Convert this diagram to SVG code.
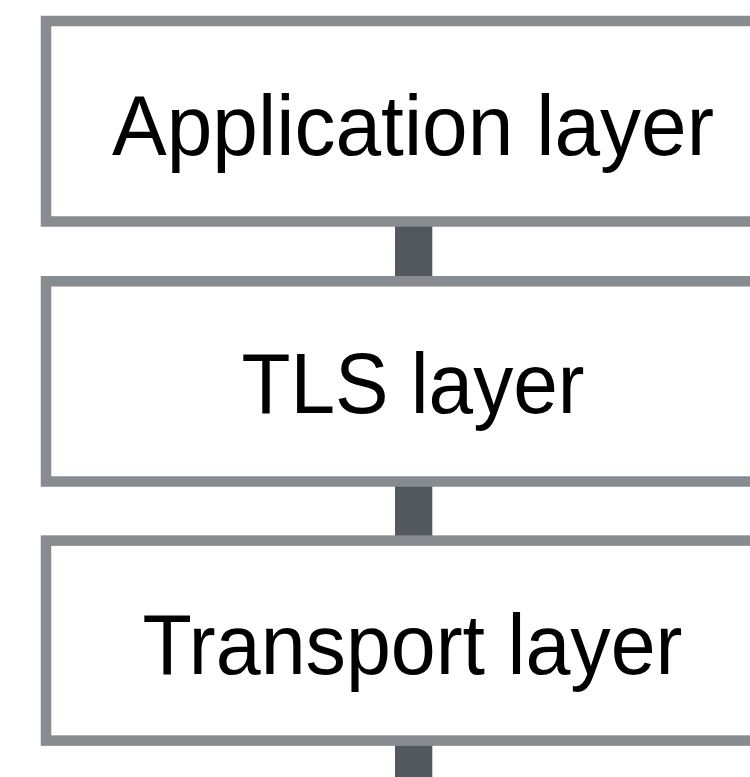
<svg xmlns="http://www.w3.org/2000/svg" width="750" height="777" viewBox="0 0 750 777">
  <style>
    .box { fill: #ffffff; stroke: #888b8f; stroke-width: 10.5; }
    .conn { fill: #53575e; stroke: none; }
    .label { font-family: "Liberation Sans", Arial, sans-serif; font-size: 85px; fill: #000000; text-anchor: middle; }
  </style>
  <rect x="0" y="0" width="750" height="777" fill="#ffffff"/>
  <g id="connectors">
    <rect class="conn" x="395" y="226" width="37.3" height="51"/>
    <rect class="conn" x="395" y="486" width="37.3" height="50"/>
    <rect class="conn" x="395" y="745" width="37.3" height="32"/>
  </g>
  <g id="application-layer">
    <rect class="box" x="46" y="21" width="735" height="200.5"/>
    <text class="label" x="413" y="155" textLength="602" lengthAdjust="spacingAndGlyphs">Application layer</text>
  </g>
  <g id="tls-layer">
    <rect class="box" x="46" y="281.3" width="735" height="200.2"/>
    <text class="label" x="413" y="413.3" textLength="343" lengthAdjust="spacingAndGlyphs">TLS layer</text>
  </g>
  <g id="transport-layer">
    <rect class="box" x="46" y="540.6" width="735" height="200"/>
    <text class="label" x="412.5" y="674" textLength="540" lengthAdjust="spacingAndGlyphs">Transport layer</text>
  </g>
</svg>
